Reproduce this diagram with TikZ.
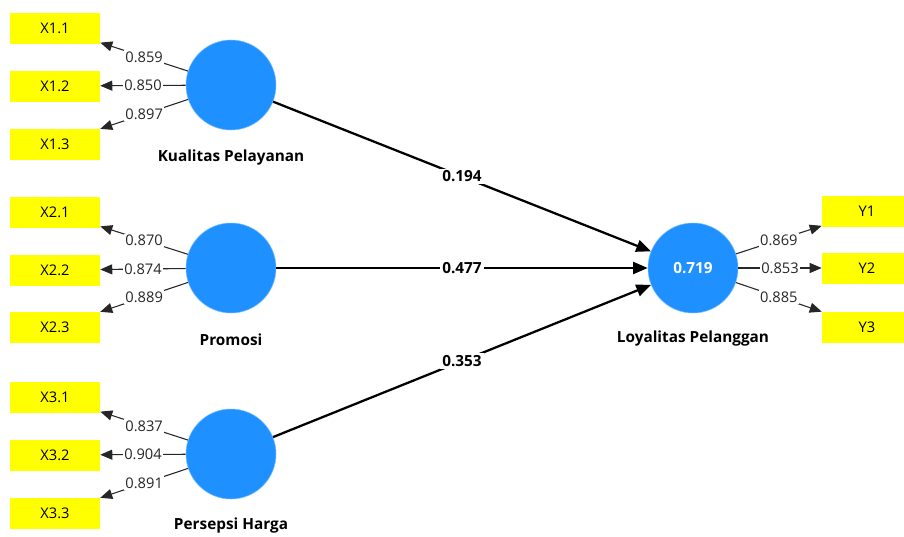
\documentclass[tikz,border=0pt]{standalone}
\usepackage{fontspec}
\setmainfont{Open Sans}
\usepackage{xcolor}
\definecolor{cLatent}{HTML}{1E90FF}
\definecolor{cItem}{HTML}{FFFF00}
\definecolor{cLine}{HTML}{262626}
\usetikzlibrary{positioning,arrows.meta}
\tikzset{
  node-lv/.style={circle,fill=cLatent,draw=cLatent!60!white,thin,
    minimum size=67.5pt,inner sep=0pt,text=white,
    font=\fontsize{11.5}{13}\selectfont\bfseries},
  node-item/.style={rectangle,fill=cItem,minimum width=67.5pt,
    minimum height=23.25pt,inner sep=0pt,font=\fontsize{11}{13}\selectfont},
  node-name/.style={inner sep=0pt,font=\fontsize{11.5}{13}\selectfont\bfseries},
  % paths between constructs / outer loadings
  arrow-path/.style={-{Triangle[length=11pt,width=9pt]},line width=1.7pt},
  arrow-load/.style={-{Triangle[length=9pt,width=7.5pt]},line width=0.8pt,draw=cLine},
  lbl-path/.style={fill=white,inner sep=1.5pt,font=\fontsize{11.5}{13}\selectfont\bfseries},
  lbl-load/.style={fill=white,inner sep=1pt,text=cLine,font=\fontsize{11}{13}\selectfont},
}
\begin{document}
\begin{tikzpicture}[x=0.75pt,y=-0.75pt]
  \useasboundingbox (0,0) rectangle (904,536);
  % latent variables
  \node[node-lv] (kp) at (231,85) {};
  \node[node-lv] (pr) at (231,268) {};
  \node[node-lv] (ph) at (231,454) {};
  \node[node-lv] (lp) at (693,268) {0.719};
  \node[node-name] (kp-name) at (231,158) {Kualitas Pelayanan};
  \node[node-name] (pr-name) at (231,340) {Promosi};
  \node[node-name] (ph-name) at (231,526) {Persepsi Harga};
  \node[node-name] (lp-name) at (693,339) {Loyalitas Pelanggan};
  % indicators
  \node[node-item] (x11) at (55,28) {X1.1};
  \node[node-item] (x12) at (55,86) {X1.2};
  \node[node-item] (x13) at (55,144) {X1.3};
  \node[node-item] (x21) at (55,212) {X2.1};
  \node[node-item] (x22) at (55,270) {X2.2};
  \node[node-item] (x23) at (55,327) {X2.3};
  \node[node-item] (x31) at (55,397) {X3.1};
  \node[node-item] (x32) at (55,455) {X3.2};
  \node[node-item] (x33) at (55,513) {X3.3};
  \node[node-item] (y1) at (867,211) {Y1};
  \node[node-item] (y2) at (867,268) {Y2};
  \node[node-item] (y3) at (867,327) {Y3};
  % loadings
  \draw[arrow-load] (kp) -- node[lbl-load]{0.859} (x11);
  \draw[arrow-load] (kp) -- node[lbl-load]{0.850} (x12);
  \draw[arrow-load] (kp) -- node[lbl-load]{0.897} (x13);
  \draw[arrow-load] (pr) -- node[lbl-load]{0.870} (x21);
  \draw[arrow-load] (pr) -- node[lbl-load]{0.874} (x22);
  \draw[arrow-load] (pr) -- node[lbl-load]{0.889} (x23);
  \draw[arrow-load] (ph) -- node[lbl-load]{0.837} (x31);
  \draw[arrow-load] (ph) -- node[lbl-load]{0.904} (x32);
  \draw[arrow-load] (ph) -- node[lbl-load]{0.891} (x33);
  \draw[arrow-load] (lp) -- node[lbl-load]{0.869} (y1);
  \draw[arrow-load] (lp) -- node[lbl-load]{0.853} (y2);
  \draw[arrow-load] (lp) -- node[lbl-load]{0.885} (y3);
  % paths
  \draw[arrow-path] (kp) -- node[lbl-path]{0.194} (lp);
  \draw[arrow-path] (pr) -- node[lbl-path]{0.477} (lp);
  \draw[arrow-path] (ph) -- node[lbl-path]{0.353} (lp);
\end{tikzpicture}
\end{document}
